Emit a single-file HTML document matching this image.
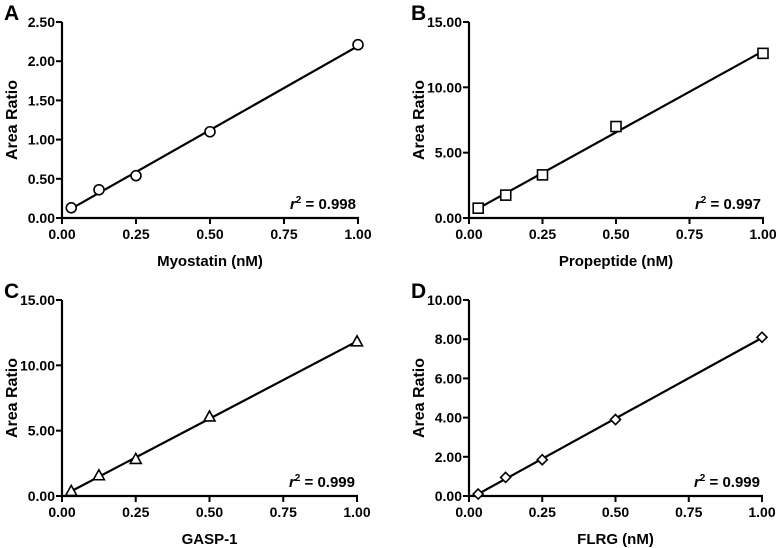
<!DOCTYPE html>
<html><head><meta charset="utf-8"><style>
html,body{margin:0;padding:0;background:#fff;}
svg{display:block;font-family:"Liberation Sans",Arial,sans-serif;font-weight:bold;}
</style></head><body>
<svg id="fig" width="778" height="548" viewBox="0 0 778 548"></svg>
<script>
const xValues = [0.03125, 0.125, 0.25, 0.5, 1.0];
const seriesA = [0.13, 0.36, 0.54, 1.10, 2.21];
const seriesB = [0.75, 1.75, 3.30, 7.00, 12.60];
const seriesC = [0.35, 1.55, 2.80, 6.05, 11.80];
const seriesD = [0.10, 0.95, 1.85, 3.90, 8.10];
const xTicks = [0, 0.25, 0.5, 0.75, 1.0];
const yTicksA = [0, 0.5, 1.0, 1.5, 2.0, 2.5];
const yTicksB = [0, 5, 10, 15];
const yTicksC = [0, 5, 10, 15];
const yTicksD = [0, 2, 4, 6, 8, 10];
const r2Labels = ["0.998", "0.997", "0.999", "0.999"];
const xTitles = ["Myostatin (nM)", "Propeptide (nM)", "GASP-1", "FLRG (nM)"];
const letters = ["A", "B", "C", "D"];

const NS = "http://www.w3.org/2000/svg";
const svg = document.getElementById("fig");
function mk(tag, attrs, parent) {
  const e = document.createElementNS(NS, tag);
  for (const k in attrs) e.setAttribute(k, attrs[k]);
  (parent || svg).appendChild(e);
  return e;
}
const panels = [
  {x0:62, x1:358, y0:218, y1:22, ys:seriesA, yt:yTicksA, marker:"circle"},
  {x0:469, x1:763, y0:218, y1:22, ys:seriesB, yt:yTicksB, marker:"square"},
  {x0:62, x1:357, y0:496, y1:300, ys:seriesC, yt:yTicksC, marker:"triangle"},
  {x0:469, x1:762, y0:496, y1:300, ys:seriesD, yt:yTicksD, marker:"diamond"}
];
panels.forEach((p, i) => {
  const g = mk("g", {});
  
  
  const ymax = p.yt[p.yt.length - 1];
  const sx = v => p.x0 + v * (p.x1 - p.x0);
  const sy = v => p.y0 - v / ymax * (p.y0 - p.y1);
  const lt = mk("text", {x: p.x0 - 62 + 4, y: p.y1 - 2, "font-size": 21}, g);
  lt.textContent = letters[i];
  
  
  // axes
  const ya = mk("line", {x1:p.x0, y1:p.y1, x2:p.x0, y2:p.y0 + 1, stroke:"#000", "stroke-width":2.2}, g);
  
  
  const xa = mk("line", {x1:p.x0 - 1, y1:p.y0, x2:p.x1 + 1, y2:p.y0, stroke:"#000", "stroke-width":2.2}, g);
  
  
  p.yt.forEach(v => {
    const y = sy(v);
    mk("line", {x1:p.x0 - 6, y1:y, x2:p.x0, y2:y, stroke:"#000", "stroke-width":2}, g);
    const t = mk("text", {x:p.x0 - 7, y:y + 5, "font-size":14, "text-anchor":"end"}, g);
    t.textContent = v.toFixed(2);
    
    
  });
  xTicks.forEach(v => {
    const x = sx(v);
    mk("line", {x1:x, y1:p.y0, x2:x, y2:p.y0 + 6, stroke:"#000", "stroke-width":2}, g);
    const t = mk("text", {x:x, y:p.y0 + 21, "font-size":14, "text-anchor":"middle"}, g);
    t.textContent = v.toFixed(2);
    
    
  });
  const xt = mk("text", {x:(p.x0 + p.x1) / 2, y:p.y0 + 48, "font-size":15, "text-anchor":"middle"}, g);
  xt.textContent = xTitles[i];
  
  
  const cy = (p.y0 + p.y1) / 2;
  const yt = mk("text", {x:0, y:0, "font-size":16, "text-anchor":"middle", transform:`translate(${p.x0 - 45},${cy}) rotate(-90)`}, g);
  yt.textContent = "Area Ratio";
  
  
  // fit
  const n = xValues.length;
  const mx = xValues.reduce((a, b) => a + b) / n, my = p.ys.reduce((a, b) => a + b) / n;
  let sxy = 0, sxx = 0;
  for (let k = 0; k < n; k++) { sxy += (xValues[k] - mx) * (p.ys[k] - my); sxx += (xValues[k] - mx) ** 2; }
  const m = sxy / sxx, b = my - m * mx;
  const xa0 = xValues[0], xa1 = xValues[n - 1];
  const fl = mk("line", {x1:sx(xa0), y1:sy(m * xa0 + b), x2:sx(xa1), y2:sy(m * xa1 + b), stroke:"#000", "stroke-width":2.2}, g);
  
  
  xValues.forEach((xv, k) => {
    const x = sx(xv), y = sy(p.ys[k]);
    let e;
    const st = {fill:"#fff", stroke:"#000", "stroke-width":1.6};
    if (p.marker === "circle") e = mk("circle", Object.assign({cx:x, cy:y, r:5}, st), g);
    else if (p.marker === "square") e = mk("rect", Object.assign({x:x - 5, y:y - 5, width:10, height:10}, st), g);
    else if (p.marker === "triangle") e = mk("polygon", Object.assign({points:`${x},${y-6} ${x+5.5},${y+4} ${x-5.5},${y+4}`}, st), g);
    else e = mk("polygon", Object.assign({points:`${x},${y-5} ${x+5},${y} ${x},${y+5} ${x-5},${y}`}, st), g);
    
    
  });
  const rt = mk("text", {x:p.x1 - 2, y:p.y0 - 9, "font-size":15, "text-anchor":"end"}, g);
  rt.innerHTML = '<tspan font-style="italic">r</tspan><tspan dy="-6" font-size="10">2</tspan><tspan dy="6"> = ' + r2Labels[i] + '</tspan>';
  
  
});
</script>
</body></html>
